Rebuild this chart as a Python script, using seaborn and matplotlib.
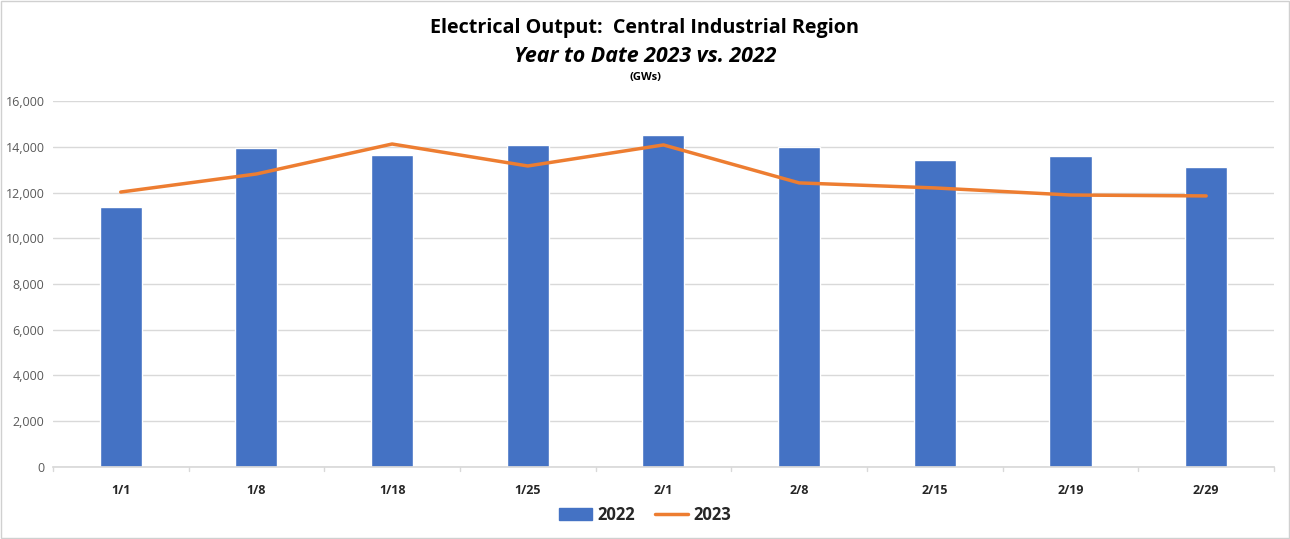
import numpy as np
import matplotlib.pyplot as plt
import seaborn as sns
from matplotlib.patches import Rectangle
from matplotlib.lines import Line2D

# weekly dates and outputs (GWs)
dates = ['1/1', '1/8', '1/18', '1/25', '2/1', '2/8', '2/15', '2/19', '2/29']
out_2022 = [11370, 13950, 13640, 14080, 14510, 13990, 13420, 13600, 13110]
out_2023 = [12020, 12810, 14120, 13160, 14080, 12420, 12200, 11890, 11850]

sns.set_theme(style='white')
plt.rcParams['font.family'] = ['Open Sans', 'DejaVu Sans']

fig = plt.figure(figsize=(12.9, 5.39), dpi=100)
ax = fig.add_axes([0.041, 0.1336, 0.9466, 0.679])

sns.barplot(x=dates, y=out_2022, color='#4472C4', width=0.31, saturation=1, ax=ax, zorder=2)
sns.lineplot(x=np.arange(len(dates)), y=out_2023, color='#ED7D31', linewidth=2.5, ax=ax, zorder=3)

ax.set_xlim(-0.5, len(dates) - 0.5)
ax.set_ylim(0, 16000)
ax.set_yticks(range(0, 16001, 2000))
ax.set_yticklabels([f'{v:,}' for v in range(0, 16001, 2000)], fontsize=9, color='#595959')
ax.grid(axis='y', color='#d9d9d9', linewidth=1)
ax.set_axisbelow(True)
for s in ['top', 'right', 'left']:
    ax.spines[s].set_visible(False)
ax.spines['bottom'].set_color('#d9d9d9')
ax.set_xticks(range(len(dates)))
ax.set_xticklabels(dates, fontsize=9, fontweight='bold', color='#262626')
ax.tick_params(axis='x', length=0, pad=12)
ax.tick_params(axis='y', length=0, pad=6)
# small tick marks between categories
for b in np.arange(-0.5, len(dates), 1.0):
    ax.plot([b, b], [0, -180], color='#d9d9d9', linewidth=1, clip_on=False)
ax.set_xlabel('')
ax.set_ylabel('')

fig.text(0.5, 0.948, 'Electrical Output:  Central Industrial Region', ha='center', va='center',
         fontsize=14.2, fontweight='bold', color='black')
fig.text(0.5, 0.896, 'Year to Date 2023 vs. 2022', ha='center', va='center',
         fontsize=15.4, fontweight='bold', fontstyle='italic', color='black')
fig.text(0.5, 0.857, '(GWs)', ha='center', va='center', fontsize=8, fontweight='bold', color='black')

handles = [Rectangle((0, 0), 1, 1, color='#4472C4'),
           Line2D([0], [0], color='#ED7D31', linewidth=2.5)]
leg = fig.legend(handles, ['2022', '2023'], loc='center', bbox_to_anchor=(0.5, 0.045), ncol=2,
                 frameon=False, prop={'weight': 'bold', 'size': 12}, handlelength=2.0,
                 handletextpad=0.3, columnspacing=1.2)

fig.add_artist(Rectangle((0.001, 0.001), 0.998, 0.998, transform=fig.transFigure,
                         fill=False, edgecolor='#d0d0d0', linewidth=1))

fig.savefig('out.png', dpi=100, facecolor='white')
